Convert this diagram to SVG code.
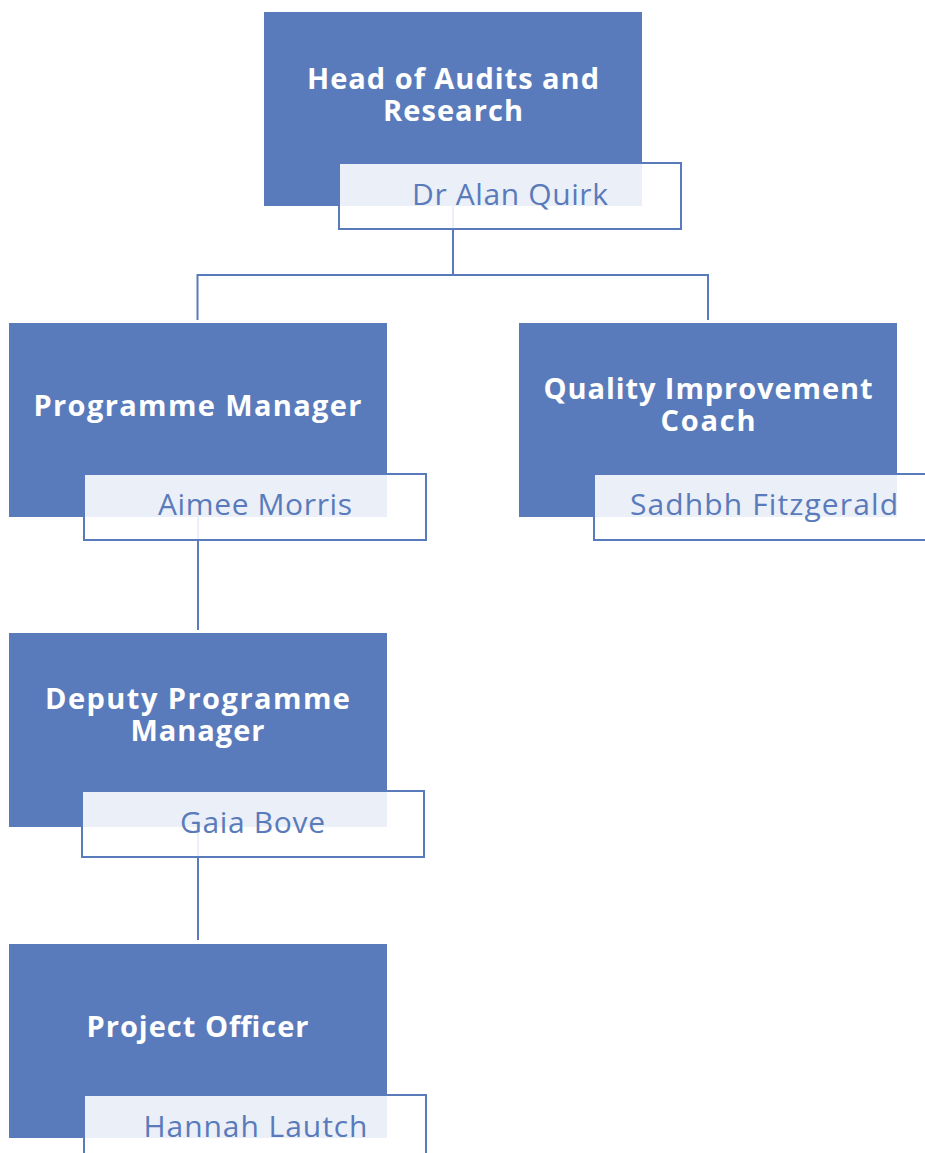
<svg xmlns="http://www.w3.org/2000/svg" width="925" height="1153" viewBox="0 0 925 1153">
  <style>
    .role { fill: #5A7BBB; }
    .role-text { font-family: "Open Sans", "Liberation Sans", sans-serif; font-weight: 700; font-size: 29px; fill: #FFFFFF; text-anchor: middle; }
    .name-box { fill: #FFFFFF; fill-opacity: 0.88; stroke: #5A7BBB; stroke-width: 2; }
    .name-text { font-family: "Open Sans", "Liberation Sans", sans-serif; font-weight: 400; font-size: 30px; fill: #5A7BBB; text-anchor: middle; }
    .conn { fill: none; stroke: #5A7BBB; stroke-width: 2; }
  </style>
  <rect width="925" height="1153" fill="#FFFFFF"/>
  <g id="connectors">
    <path class="conn" d="M453 206 V275 M197 275 H708 M197.5 274 V320 M708 274 V320"/>
    <path class="conn" d="M198 517 V630"/>
    <path class="conn" d="M198 827 V940"/>
  </g>
  <g id="node-head">
    <rect class="role" x="264" y="12" width="378" height="194"/>
    <text class="role-text" x="453" y="89" textLength="292" lengthAdjust="spacing">Head of Audits and</text>
    <text class="role-text" x="453" y="121" textLength="140" lengthAdjust="spacing">Research</text>
    <rect class="name-box" x="339" y="163" width="342" height="66"/>
    <text class="name-text" x="510" y="205" textLength="196" lengthAdjust="spacing">Dr Alan Quirk</text>
  </g>
  <g id="node-programme-manager">
    <rect class="role" x="9" y="323" width="378" height="194"/>
    <text class="role-text" x="197.5" y="416" textLength="328" lengthAdjust="spacing">Programme Manager</text>
    <rect class="name-box" x="84" y="474" width="342" height="66"/>
    <text class="name-text" x="255" y="515" textLength="194" lengthAdjust="spacing">Aimee Morris</text>
  </g>
  <g id="node-quality-coach">
    <rect class="role" x="519" y="323" width="378" height="194"/>
    <text class="role-text" x="708" y="399" textLength="329" lengthAdjust="spacing">Quality Improvement</text>
    <text class="role-text" x="708" y="431" textLength="95" lengthAdjust="spacing">Coach</text>
    <rect class="name-box" x="594" y="474" width="342" height="66"/>
    <text class="name-text" x="764" y="515" textLength="268" lengthAdjust="spacing">Sadhbh Fitzgerald</text>
  </g>
  <g id="node-deputy-manager">
    <rect class="role" x="9" y="633" width="378" height="194"/>
    <text class="role-text" x="197.5" y="709" textLength="305" lengthAdjust="spacing">Deputy Programme</text>
    <text class="role-text" x="197.5" y="741" textLength="134" lengthAdjust="spacing">Manager</text>
    <rect class="name-box" x="82" y="791" width="342" height="66"/>
    <text class="name-text" x="252.5" y="833" textLength="145" lengthAdjust="spacing">Gaia Bove</text>
  </g>
  <g id="node-project-officer">
    <rect class="role" x="9" y="944" width="378" height="194"/>
    <text class="role-text" x="197.5" y="1037" textLength="222" lengthAdjust="spacing">Project Officer</text>
    <rect class="name-box" x="84" y="1095" width="342" height="66"/>
    <text class="name-text" x="255.5" y="1137" textLength="224" lengthAdjust="spacing">Hannah Lautch</text>
  </g>
</svg>
